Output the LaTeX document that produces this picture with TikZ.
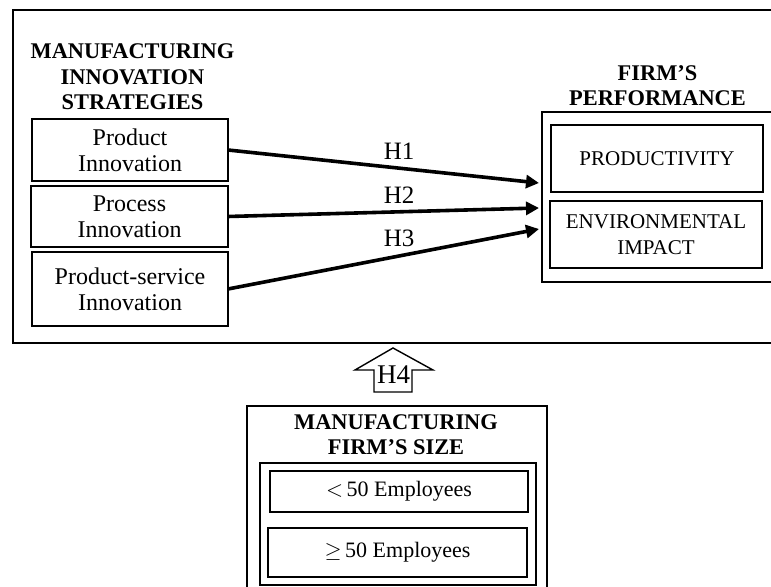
\documentclass[tikz,border=0pt]{standalone}
\usepackage{fontspec}
\setmainfont{Liberation Serif}
\usetikzlibrary{arrows.meta}

\begin{document}
\begin{tikzpicture}[x=0.5pt,y=-0.5pt,
    box/.style={draw,line width=0.7pt,inner sep=0pt,outer sep=0pt,align=center,
      font=\fontsize{12}{13}\selectfont},
    frame/.style={line width=0.7pt},
    head/.style={align=center,font=\fontsize{11.2}{12.75}\selectfont\bfseries},
    hyp/.style={line width=1.8pt,-{Triangle[length=6.5pt,width=6.5pt]}},
    hlab/.style={font=\fontsize{12.5}{14}\selectfont,inner sep=1pt}]
  \useasboundingbox (0,0) rectangle (771,587);
  \clip (0,0) rectangle (771,587);

  % frames
  \draw[frame] (13,10) rectangle (790,343);
  \draw[frame] (542,112) rectangle (790,282);
  \draw[frame] (247,406) rectangle (547,600);
  \draw[frame] (260,463) rectangle (536,585);

  % innovation strategies
  \node[head] (strat) at (132.5,77) {MANUFACTURING\\INNOVATION\\STRATEGIES};
  \node[box,minimum width=98pt,minimum height=31pt] (prod) at (130,150) {Product\\Innovation};
  \node[box,minimum width=98.5pt,minimum height=30.5pt] (proc) at (129.5,216.5) {Process\\Innovation};
  \node[box,minimum width=98pt,minimum height=37pt] (serv) at (130,289) {Product-service\\Innovation};

  % performance
  \node[head] (perf) at (657.5,85.5) {FIRM'S\\PERFORMANCE};
  \node[box,font=\fontsize{10.5}{13}\selectfont,minimum width=106pt,minimum height=33.5pt] (prodv) at (657,158.5) {PRODUCTIVITY};
  \node[box,font=\fontsize{10.5}{13}\selectfont,minimum width=106pt,minimum height=33.5pt] (env) at (656,234.5) {ENVIRONMENTAL\\IMPACT};

  \coordinate (in1) at (539,183);
  \coordinate (in2) at (539,208);
  \coordinate (in3) at (539,229);
  \foreach \src/\dst/\lab in {prod/in1/H1,proc/in2/H2,serv/in3/H3}
    \draw[hyp] (\src.east) -- (\dst) node[hlab,above,yshift=2.5pt,pos=.55] {\lab};

  % firm size
  \node[head] (size) at (396,434.5) {MANUFACTURING\\FIRM'S SIZE};
  \node[box,font=\fontsize{11}{13}\selectfont,minimum width=129pt,minimum height=20.5pt] (small) at (399,491.5) {$<$\,50 Employees};
  \node[box,font=\fontsize{11}{13}\selectfont,minimum width=129.5pt,minimum height=24.5pt] (large) at (397.5,552.5) {$\geq$\,50 Employees};

  % moderating arrow
  \draw[line width=0.7pt] (374,392) -- (374,370) -- (355,370) -- (393,348)
    -- (433,370) -- (412,370) -- (412,392) -- cycle;
  \node[hlab,font=\fontsize{13.5}{15}\selectfont] (h4) at (393.5,375) {H4};
\end{tikzpicture}
\end{document}
